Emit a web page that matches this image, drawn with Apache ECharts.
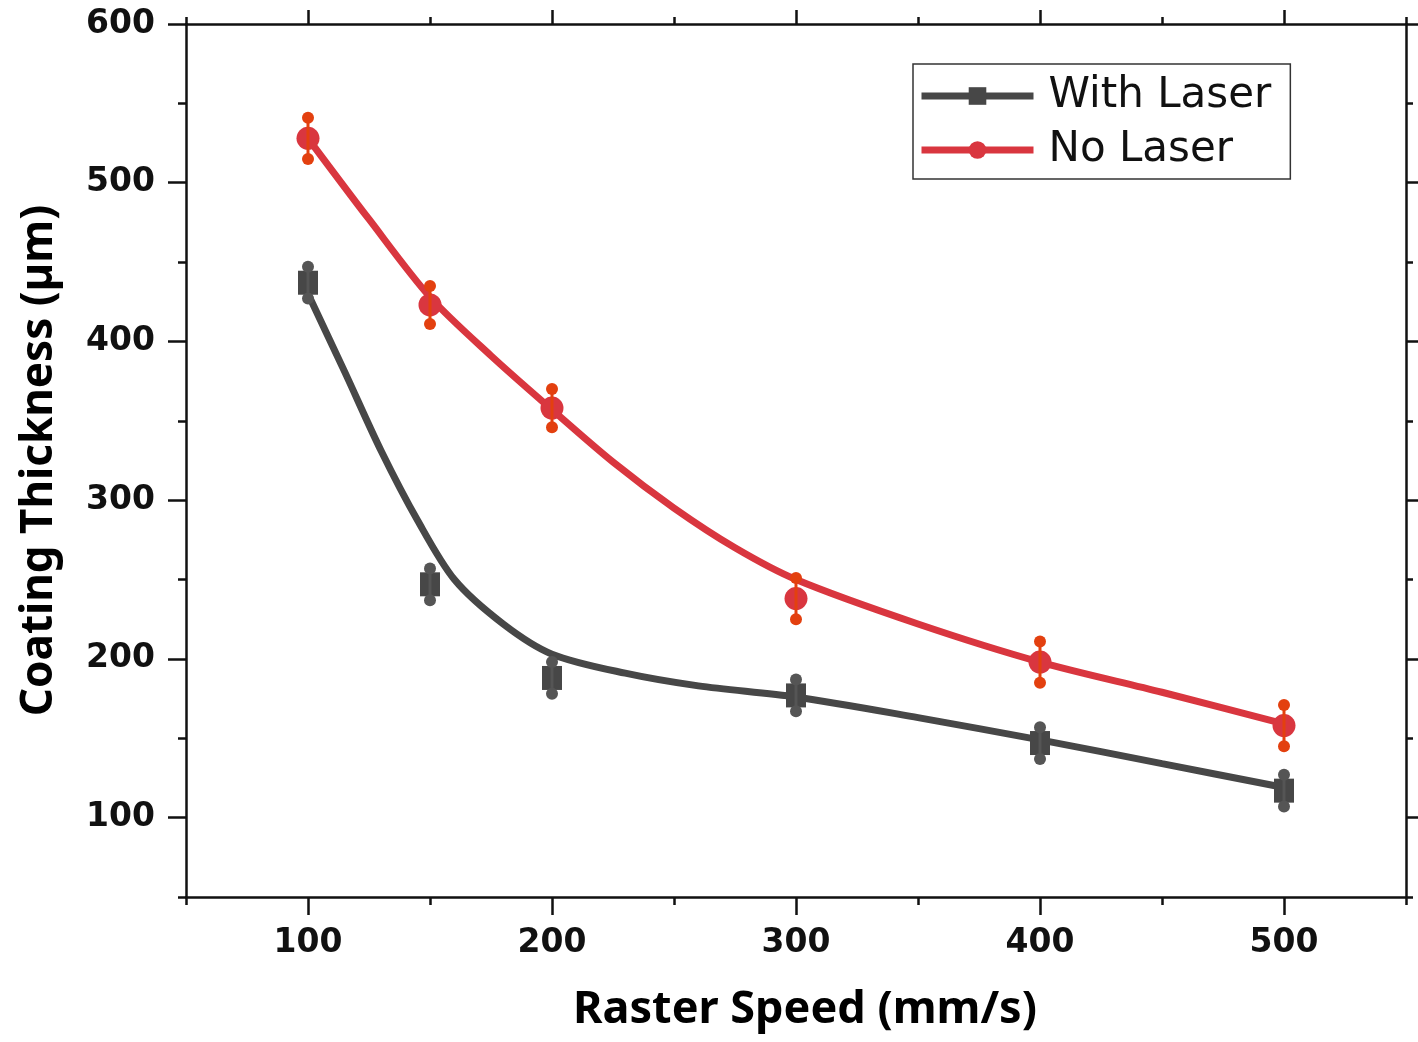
<!DOCTYPE html>
<html>
<head>
<meta charset="utf-8">
<title>Coating Thickness vs Raster Speed</title>
<script src="https://cdn.jsdelivr.net/npm/echarts@6/dist/echarts.min.js"></script>
<style>
    html, body { margin: 0; padding: 0; background: #fff; }
    #chart { width: 1418px; height: 1042px; }
</style>
</head>
<body>
<div id="chart"></div>
<script>

// measured points (mean and +/- error)
var speeds = [100, 150, 200, 300, 400, 500];
var withLaser = [437, 247, 188, 177, 147, 117];
var withLaserErr = [10, 10, 10, 10, 10, 10];
var noLaser = [528, 423, 358, 238, 198, 158];
var noLaserErr = [13, 12, 12, 13, 13, 13];

// fitted curves
var withLaserFitX = [100, 115, 130, 145, 160, 180, 200, 230, 260, 300, 350, 400, 450, 500];
var withLaserFitY = [430, 381, 331, 287, 250, 222, 203, 191, 183, 176, 163, 149, 134, 119];
var noLaserFitX = [100, 125, 150, 175, 200, 225, 250, 275, 300, 350, 400, 450, 500];
var noLaserFitY = [528, 477, 428, 391, 357, 324, 295, 270, 250, 222, 198, 179, 159];

// ticks
var xMajor = [100, 200, 300, 400, 500];
var xMinor = [50, 150, 250, 350, 450, 550];
var yMajor = [100, 200, 300, 400, 500, 600];
var yMinor = [50, 150, 250, 350, 450, 550];

var grayColor = "#474747";
var redColor = "#d9363f";
var redErrColor = "#e3400f";

function pairs(xs, ys) {
    return xs.map(function (x, i) { return [x, ys[i]]; });
}

function errData(means, errs) {
    return speeds.map(function (x, i) { return [x, means[i] - errs[i], means[i] + errs[i]]; });
}

function errorBar(color) {
    return function (params, api) {
        var top = api.coord([api.value(0), api.value(2)]);
        var bot = api.coord([api.value(0), api.value(1)]);
        return {
            type: "group",
            children: [
                { type: "line", shape: { x1: top[0], y1: top[1], x2: bot[0], y2: bot[1] }, style: { stroke: color, lineWidth: 3 } },
                { type: "circle", shape: { cx: top[0], cy: top[1], r: 6 }, style: { fill: color } },
                { type: "circle", shape: { cx: bot[0], cy: bot[1], r: 6 }, style: { fill: color } }
            ]
        };
    };
}

var axisLine = { show: true, onZero: false, lineStyle: { color: "#111", width: 2.5 } };
var noLine = { show: false, onZero: false };

function xAxisOf(position, ticks, len, withLine) {
    return {
        type: "value",
        position: position,
        min: 50,
        max: 550,
        interval: 50,
        axisLine: withLine ? axisLine : noLine,
        axisTick: { show: true, customValues: ticks, length: len, lineStyle: { color: "#111", width: 2.5 } },
        axisLabel: { show: false },
        splitLine: { show: false }
    };
}

function yAxisOf(position, ticks, len, withLine) {
    return {
        type: "value",
        position: position,
        min: 50,
        max: 600,
        interval: 50,
        axisLine: withLine ? axisLine : noLine,
        axisTick: { show: true, customValues: ticks, length: len, lineStyle: { color: "#111", width: 2.5 } },
        axisLabel: { show: false },
        splitLine: { show: false }
    };
}

var xBottom = xAxisOf("bottom", xMajor, 18, true);
xBottom.axisLabel = {
    show: true,
    customValues: xMajor,
    margin: 30,
    color: "#111",
    fontSize: 33,
    fontWeight: "bold",
    fontFamily: "DejaVu Sans"
};
xBottom.name = "Raster Speed (mm/s)";
xBottom.nameLocation = "middle";
xBottom.nameGap = 91;
xBottom.nameTextStyle = { fontSize: 45, fontWeight: "bold", fontFamily: "Noto Sans", color: "#000", padding: [0, 0, 0, 18] };

var yLeft = yAxisOf("left", yMajor, 18, true);
yLeft.axisLabel = {
    show: true,
    customValues: yMajor,
    margin: 31,
    color: "#111",
    fontSize: 33,
    fontWeight: "bold",
    fontFamily: "DejaVu Sans"
};
yLeft.name = "Coating Thickness (µm)";
yLeft.nameLocation = "middle";
yLeft.nameGap = 125;
yLeft.nameTextStyle = { fontSize: 44, fontWeight: "bold", fontFamily: "Noto Sans", color: "#000", padding: [0, 0, 0, 0] };

var option = {
    backgroundColor: "#fff",
    animation: false,
    grid: { left: 186, right: 12, top: 24, bottom: 145, containLabel: false, outerBoundsMode: "none" },
    legend: {
        data: ["With Laser", "No Laser"],
        orient: "vertical",
        left: 913,
        top: 64,
        itemWidth: 112,
        itemHeight: 22,
        itemGap: 12,
        padding: [11, 19, 8, 5],
        borderColor: "#333",
        borderWidth: 1.5,
        backgroundColor: "#fff",
        lineStyle: { width: 7 },
        textStyle: { fontSize: 42, fontFamily: "DejaVu Sans", color: "#111", padding: [0, 0, 0, 10] }
    },
    xAxis: [
        xBottom,
        xAxisOf("bottom", xMinor, 8, false),
        xAxisOf("top", xMajor, 14, true),
        xAxisOf("top", xMinor, 7, false)
    ],
    yAxis: [
        yLeft,
        yAxisOf("left", yMinor, 8, false),
        yAxisOf("right", yMajor, 12, true),
        yAxisOf("right", yMinor, 7, false)
    ],
    series: [
        {
            name: "With Laser",
            type: "line",
            smooth: 0.3,
            symbol: "rect",
            showSymbol: false,
            data: pairs(withLaserFitX, withLaserFitY),
            lineStyle: { color: grayColor, width: 7 },
            itemStyle: { color: grayColor },
            z: 3
        },
        {
            name: "No Laser",
            type: "line",
            smooth: 0.3,
            symbol: "circle",
            showSymbol: false,
            data: pairs(noLaserFitX, noLaserFitY),
            lineStyle: { color: redColor, width: 7 },
            itemStyle: { color: redColor },
            z: 3
        },
        {
            name: "With Laser points",
            type: "scatter",
            symbol: "rect",
            symbolSize: [20, 24],
            data: pairs(speeds, withLaser),
            itemStyle: { color: grayColor, opacity: 1 },
            z: 4
        },
        {
            name: "No Laser points",
            type: "scatter",
            symbol: "circle",
            symbolSize: 23,
            data: pairs(speeds, noLaser),
            itemStyle: { color: redColor, opacity: 1 },
            z: 4
        },
        {
            name: "With Laser error",
            type: "custom",
            renderItem: errorBar("#555"),
            data: errData(withLaser, withLaserErr),
            z: 5
        },
        {
            name: "No Laser error",
            type: "custom",
            renderItem: errorBar(redErrColor),
            data: errData(noLaser, noLaserErr),
            z: 5
        }
    ]
};

var chart = echarts.init(document.getElementById("chart"));
chart.setOption(option);

window.addEventListener("resize", function () {
    chart.resize();
});

</script>
</body>
</html>
